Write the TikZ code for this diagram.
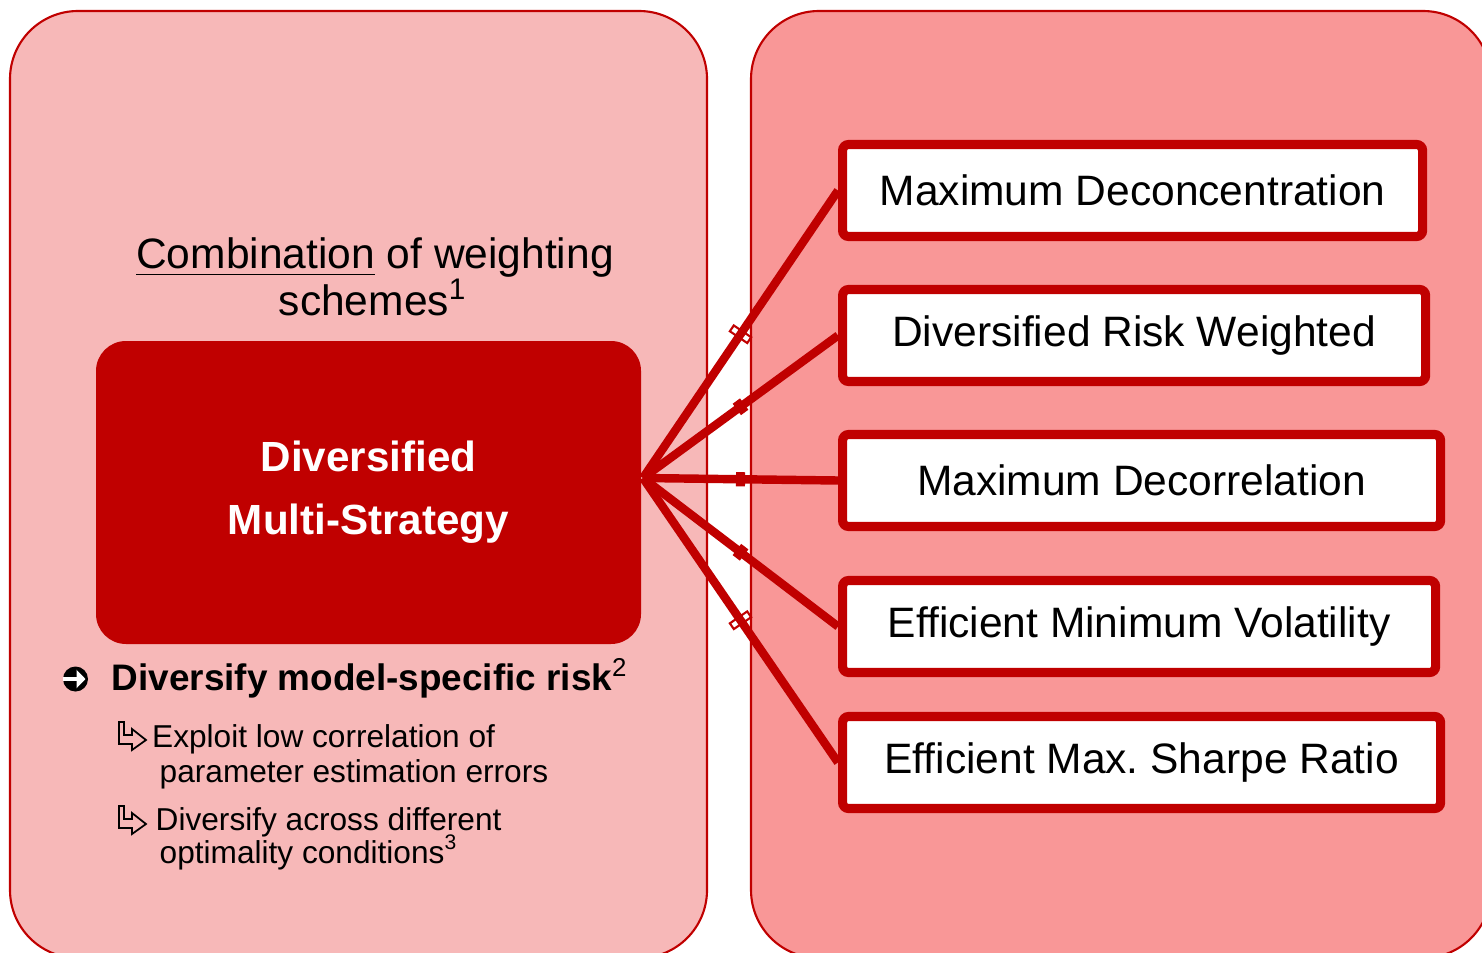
\documentclass[tikz,border=0pt]{standalone}
\usepackage{fontspec}
\setmainfont{Liberation Sans}
\usetikzlibrary{positioning,calc,arrows.meta}
\definecolor{darkred}{RGB}{192,0,0}
\definecolor{lightpink}{RGB}{247,184,184}
\definecolor{midpink}{RGB}{249,151,151}

\begin{document}
\begin{tikzpicture}[
    panel/.style={draw=darkred, line width=0.6pt, rounded corners=0.68cm},
    core/.style={rectangle, fill=darkred, text=white, rounded corners=0.3cm, minimum width=5.45cm, minimum height=3.03cm, align=center, font=\fontsize{12}{17.9}\selectfont\bfseries},
    scheme/.style={rectangle, draw=darkred, line width=2.6pt, fill=white, rounded corners=0.06cm, minimum height=0.92cm, anchor=west, font=\fontsize{12.1}{14}\selectfont},
    link/.style={draw=darkred, line width=2.4pt},
    handle/.style={rectangle, draw=darkred, line width=0.6pt, minimum width=0.07cm, minimum height=0.21cm, inner sep=0pt, sloped},
    knob/.style={handle, fill=darkred, minimum height=0.12cm},
    txt/.style={anchor=base west, inner sep=0pt},
    big/.style={font=\fontsize{12.1}{14}\selectfont},
    small/.style={font=\fontsize{9}{11}\selectfont},
    subarrow/.pic={
        \draw[x=0.1mm, y=-0.1mm, line width=0.5pt, line join=miter]
            (0,0) -- (5,0) -- (5,13) -- (13,13) -- (13,7) -- (27,18) -- (13,28) -- (13,22) -- (0,22) -- cycle;
    }
]
    \useasboundingbox (0,0) rectangle (14.82,9.52);
    \clip (0,0) rectangle (14.82,9.52);

    % Panels
    \draw[panel, fill=lightpink] (0.10,-0.06) rectangle (7.07,9.41);
    \draw[panel, fill=midpink] (7.51,-0.06) rectangle (14.91,9.41);

    % Left side
    \node[big, anchor=base, inner sep=0pt] (comb1) at (3.75,6.83) {\underline{Combination} of weighting};
    \node[big, anchor=base, inner sep=0pt] (comb2) at (3.73,6.37) {schemes\textsuperscript{1}};

    \node[core] (dms) at (3.685,4.595) {Diversified\\Multi-Strategy};
    \coordinate (hub) at (6.43,4.74);

    \node[circle, fill=black, minimum size=0.25cm, inner sep=0pt] (keyarrow) at (0.755,2.73) {};
    \draw[white, line width=1.3pt, -{Triangle[length=0.9mm, width=1.8mm]}]
        ([xshift=-1.3mm]keyarrow.center) -- ([xshift=1mm]keyarrow.center);
    \node[txt, font=\fontsize{10.5}{12}\selectfont\bfseries] (key) at (1.11,2.62) {Diversify model-specific risk\textsuperscript{\mdseries 2}};

    \pic at (1.19,2.30) {subarrow};
    \node[txt, small] (sub1a) at (1.515,2.05) {Exploit low correlation of};
    \node[txt, small] (sub1b) at (1.59,1.70) {parameter estimation errors};
    \pic at (1.19,1.46) {subarrow};
    \node[txt, small] (sub2a) at (1.55,1.22) {Diversify across different};
    \node[txt, small] (sub2b) at (1.59,0.89) {optimality conditions\textsuperscript{3}};

    % Right side
    \node[scheme, minimum width=5.80cm] (mdc) at (8.38,7.615) {Maximum Deconcentration};
    \node[scheme, minimum width=5.83cm] (drw) at (8.38,6.165) {Diversified Risk Weighted};
    \node[scheme, minimum width=5.98cm] (mdr) at (8.38,4.715) {Maximum Decorrelation};
    \node[scheme, minimum width=5.93cm] (emv) at (8.38,3.255) {Efficient Minimum Volatility};
    \node[scheme, minimum width=5.98cm] (ems) at (8.38,1.895) {Efficient Max.\ Sharpe Ratio};

    % Links
    \draw[link] (hub) -- node[handle] {} (mdc.west);
    \draw[link] (hub) -- node[knob] {} (drw.west);
    \draw[link] (hub) -- node[knob] {} (mdr.west);
    \draw[link] (hub) -- node[knob] {} (emv.west);
    \draw[link] (hub) -- node[handle] {} (ems.west);
\end{tikzpicture}
\end{document}
